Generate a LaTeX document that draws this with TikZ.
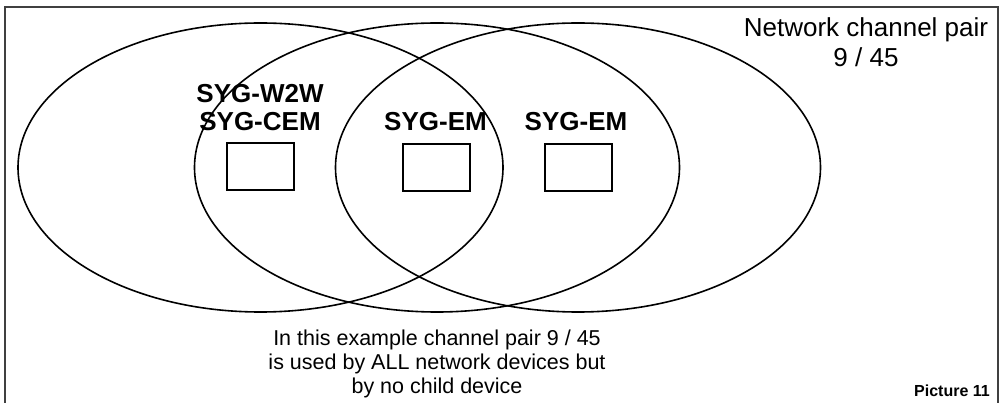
\documentclass[tikz,border=0pt]{standalone}
\usepackage{fontspec}
\setmainfont{Liberation Sans}
\usetikzlibrary{shapes.geometric}
\begin{document}
\begin{tikzpicture}[x=1pt,y=-1pt,
  venn/.style={draw=black, line width=1.6pt, ellipse, inner sep=0pt,
    minimum width=485pt, minimum height=289pt},
  devbox/.style={draw=black, line width=2pt, inner sep=0pt,
    minimum width=67pt, minimum height=47pt},
  devlabel/.style={font=\fontsize{26}{28}\selectfont\bfseries, anchor=base, inner sep=0pt},
  toplabel/.style={font=\fontsize{26}{30}\selectfont, anchor=base, inner sep=0pt},
  note/.style={font=\fontsize{21.5}{24}\selectfont, anchor=base, inner sep=0pt},
  frame/.style={draw=black!75, line width=1.2pt}]
\useasboundingbox (0,0) rectangle (1005,403);
\fill[white] (0,0) rectangle (1005,403);
\draw[frame] (5,403) -- (5,7) -- (998,7) -- (998,403);
% ellipses
\node[venn] (e1) at (260.5,167.5) {};
\node[venn] (e2) at (437,167.5) {};
\node[venn] (e3) at (578,167.5) {};
% device boxes
\node[devbox] (b1) at (260,166.5) {};
\node[devbox] (b2) at (436.5,167.5) {};
\node[devbox] (b3) at (578,167.5) {};
% labels
\node[devlabel] (l1a) at (260,103) {SYG-W2W};
\node[devlabel] (l1b) at (260,131) {SYG-CEM};
\node[devlabel] (l2) at (435.5,131) {SYG-EM};
\node[devlabel] (l3) at (576,131) {SYG-EM};
% top right
\node[toplabel] (t1) at (866,37) {Network channel pair};
\node[toplabel] (t2) at (866,67) {9 / 45};
% bottom note
\node[note] (n1) at (437,346) {In this example channel pair 9 / 45};
\node[note] (n2) at (437,370) {is used by ALL network devices but};
\node[note] (n3) at (437,394) {by no child device};
% picture caption
\node[font=\fontsize{16}{18}\selectfont\bfseries, anchor=base east, inner sep=0pt] (pic) at (990,397) {Picture 11};
\end{tikzpicture}
\end{document}
